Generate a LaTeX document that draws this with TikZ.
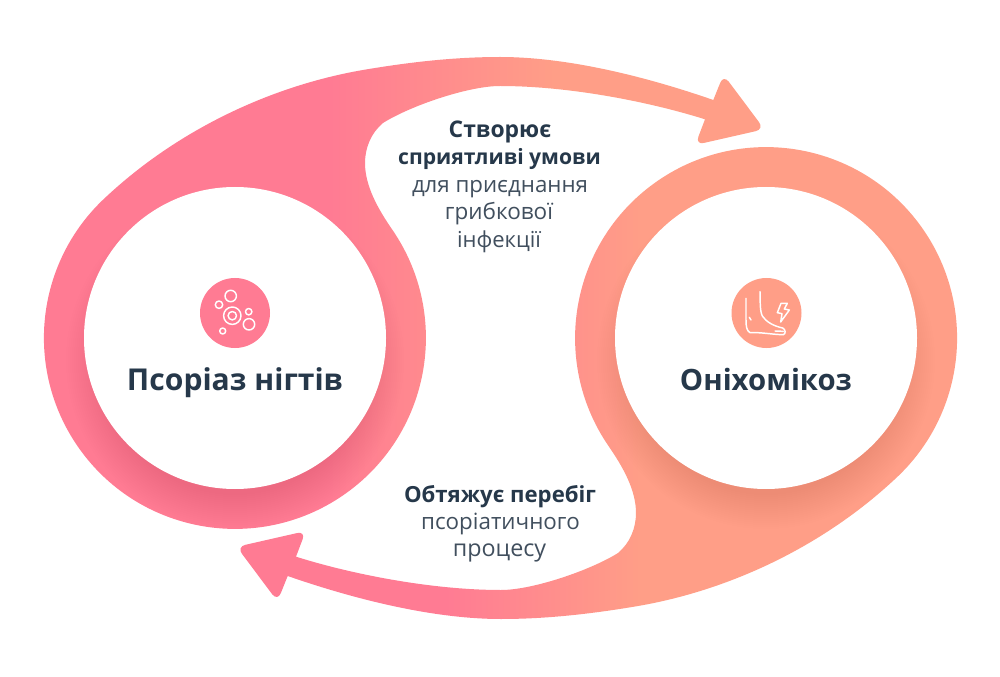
\documentclass[tikz,border=0pt]{standalone}
\usepackage{fontspec}
\setmainfont{Open Sans}
\definecolor{pinkc}{HTML}{FF7B93}
\definecolor{salmc}{HTML}{FF9E87}
\definecolor{inkc}{HTML}{26384A}
\definecolor{softc}{HTML}{414F5E}
\pgfdeclarehorizontalshading{blobA}{100bp}{color(0bp)=(pinkc); color(45.6bp)=(pinkc); color(60.8bp)=(salmc); color(100bp)=(salmc)}
\pgfdeclarehorizontalshading{blobB}{100bp}{color(0bp)=(pinkc); color(39.1bp)=(pinkc); color(52.3bp)=(salmc); color(100bp)=(salmc)}
\newcommand{\fitw}[2]{\resizebox{#1}{!}{#2}}
\newcommand{\blobpath}{%
  (392.5,446) arc[start angle=34.4,end angle=-226,radius=191]
  .. controls (175,545) and (270,590) .. (363,606)
  .. controls (410,614) and (455,619) .. (500,619)
  .. controls (570,619) and (650,598) .. (713.3,576)
  [rounded corners=6.5pt] -- (723.5,601.3) -- (764.3,546.8) -- (695.3,531.1) [sharp corners]
  -- (705,556.7)
  .. controls (650,574) and (570,590) .. (500,590)
  .. controls (468,590) and (410,570) .. (383,553)
  .. controls (371,543) and (365,528) .. (365,513)
  .. controls (365,490) and (378,467) .. (392.5,446) -- cycle}
\tikzset{
  lbl/.style={inner sep=0pt,anchor=base,text=inkc,font=\bfseries},
  txt/.style={inner sep=0pt,anchor=base,text=softc},
  iconline/.style={draw=white,line width=1.1pt,fill=none,line cap=round,line join=round},
  hole/.style={circle,fill=white,minimum size=226.5pt,inner sep=0pt},
  badge/.style={circle,minimum size=52.5pt,inner sep=0pt}
}
\begin{document}
\begin{tikzpicture}[x=0.75pt,y=0.75pt]
\useasboundingbox (0,0) rectangle (1000,676);
\fill[white] (0,0) rectangle (1000,676);
% left blob
\shade[shading=blobA] \blobpath;
% right blob (point mirror)
\begin{scope}[rotate around={180:(500.5,338)}]
\shade[shading=blobB] \blobpath;
\end{scope}
% shadows of the white discs
\begin{scope}
\clip \blobpath;
\foreach \r in {135,137,...,169}{\fill[black,opacity=0.005] (235,316) circle[radius=\r];}
\end{scope}
\begin{scope}[rotate around={180:(500.5,338)}]
\clip \blobpath;
\foreach \r in {135,137,...,169}{\fill[black,opacity=0.005] (235,360) circle[radius=\r];}
\end{scope}
\node[hole] (holeL) at (235,338) {};
\node[hole] (holeR) at (766,338) {};
\node[badge,fill=pinkc] (badgeL) at (235,363) {};
\node[badge,fill=salmc] (badgeR) at (766.5,363) {};
% left icon
\draw[iconline] (230.7,380) circle[radius=5.7];
\draw[iconline] (219,371.3) circle[radius=3.7];
\draw[iconline] (232.3,360.3) circle[radius=8.7];
\draw[iconline] (232.3,360.3) circle[radius=4.2];
\draw[iconline] (248.7,364.3) circle[radius=3.2];
\draw[iconline] (249,351.7) circle[radius=5.7];
\draw[iconline] (222.7,345) circle[radius=3];
% right icon
\begin{scope}[shift={(710,406)},x=0.25pt,y=-0.25pt]
\draw[iconline] (108,85) -- (108,150) .. controls (108,170) and (110,182) .. (120,188)
  .. controls (150,186) and (190,194) .. (220,194)
  .. controls (228,192) and (227,178) .. (218,174)
  .. controls (190,168) and (168,155) .. (157,138)
  .. controls (149,122) and (151,90) .. (150,65);
\draw[iconline] (118,142) -- (123,150);
\draw[iconline] (195,183) -- (220,184);
\draw[iconline] (213,100) -- (202,128) -- (216,131) -- (212,156) -- (238,120) -- (223,117) -- (232,100) -- cycle;
\end{scope}
% texts
\node[lbl] (psor) at (235,286) {\fitw{162pt}{Псоріаз нігтів}};
\node[lbl] (onih) at (766,286) {\fitw{129pt}{Оніхомікоз}};
\node[lbl] (t1) at (500,538) {\fitw{77pt}{Створює}};
\node[lbl] (t2) at (499.5,511) {\fitw{152pt}{сприятливі умови}};
\node[txt] (t3) at (500,483) {\fitw{132pt}{для приєднання}};
\node[txt] (t4) at (499,456) {\fitw{81pt}{грибкової}};
\node[txt] (t5) at (499,428) {\fitw{63pt}{інфекції}};
\node[lbl] (b1) at (500,174) {\fitw{144pt}{Обтяжує перебіг}};
\node[txt] (b2) at (500.5,147) {\fitw{119pt}{псоріатичного}};
\node[txt] (b3) at (499.5,120) {\fitw{70pt}{процесу}};
\end{tikzpicture}
\end{document}
